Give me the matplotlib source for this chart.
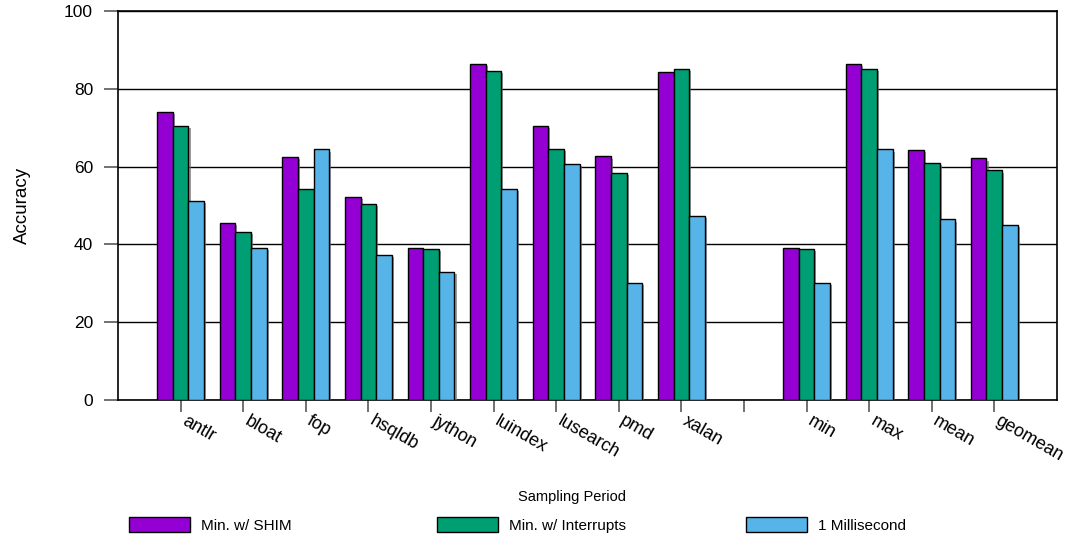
import numpy as np
import matplotlib
matplotlib.use("Agg")
import matplotlib.pyplot as plt
import matplotlib.patheffects as pe
from matplotlib.patches import Patch

plt.rcParams['font.family'] = ['Liberation Sans', 'DejaVu Sans']

# benchmarks, a blank slot, then the summary statistics
benchmarks = ["antlr", "bloat", "fop", "hsqldb", "jython", "luindex", "lusearch",
              "pmd", "xalan", "", "min", "max", "mean", "geomean"]

shim = [74.0, 45.4, 62.4, 52.2, 39.2, 86.5, 70.4, 62.6, 84.4, np.nan, 39.2, 86.5, 64.2, 62.1]
interrupts = [70.4, 43.3, 54.2, 50.3, 38.9, 84.5, 64.5, 58.3, 85.0, np.nan, 38.9, 85.0, 61.0, 59.0]
millisecond = [51.2, 39.2, 64.4, 37.4, 32.9, 54.2, 60.7, 30.2, 47.4, np.nan, 30.2, 64.4, 46.4, 45.0]

series_names = ["Min. w/ SHIM", "Min. w/ Interrupts", "1 Millisecond"]
colors = ["#9400D3", "#009E73", "#56B4E9"]

fig = plt.figure(figsize=(10.73, 5.4), dpi=100)
ax = fig.add_axes([0.110, 0.2593, 0.875, 0.7203])

x = np.arange(1, len(benchmarks) + 1)
width = 0.25
shadow = [pe.SimplePatchShadow(offset=(1.5, -1.5), shadow_rgbFace="0.45", alpha=0.7), pe.Normal()]

for i, (vals, col) in enumerate(zip([shim, interrupts, millisecond], colors)):
    bars = ax.bar(x + (i - 1) * width, vals, width, color=col, edgecolor="black",
                  linewidth=1.0, zorder=3)
    for b in bars:
        b.set_path_effects(shadow)

ax.set_xlim(0, len(benchmarks) + 1)
ax.set_ylim(0, 100)
ax.set_yticks([0, 20, 40, 60, 80, 100])
ax.yaxis.grid(True, color="black", linewidth=1.0, zorder=0)
ax.set_axisbelow(True)

for s in ax.spines.values():
    s.set_color("black")
    s.set_linewidth(1.2)

# tick marks sit on the group centres; labels hang a little to the right
ax.set_xticks(x)
ax.set_xticklabels([])
ax.set_xticks(x + 0.11, benchmarks, minor=True)
for lbl in ax.get_xticklabels(minor=True):
    lbl.set_rotation(-30)
    lbl.set_ha("left")
    lbl.set_va("top")
    lbl.set_rotation_mode("anchor")
    lbl.set_fontsize(13)
ax.tick_params(axis="x", which="major", length=8.5, width=1.2, color="0.35")
ax.tick_params(axis="x", which="minor", length=0, pad=9)
ax.tick_params(axis="y", length=10, width=1.2, color="0.35", labelsize=12.5, pad=8)

ax.set_ylabel("Accuracy", fontsize=13.5, labelpad=24)

fig.text(572 / 1073, 1 - 497 / 540, "Sampling Period", ha="center", va="center", fontsize=10.5)

# one legend box per series, spaced evenly along the bottom
for name, col, xpos in zip(series_names, colors, [129, 437, 746]):
    h = Patch(facecolor=col, edgecolor="black", linewidth=1.0)
    fig.legend(handles=[h], labels=[name], loc="center left",
               bbox_to_anchor=(xpos / 1073, 1 - 525 / 540), frameon=False,
               fontsize=11, handlelength=4.0, handleheight=1.1,
               handletextpad=0.7, borderpad=0.0, borderaxespad=0.0)

fig.savefig("out.png", dpi=100)
